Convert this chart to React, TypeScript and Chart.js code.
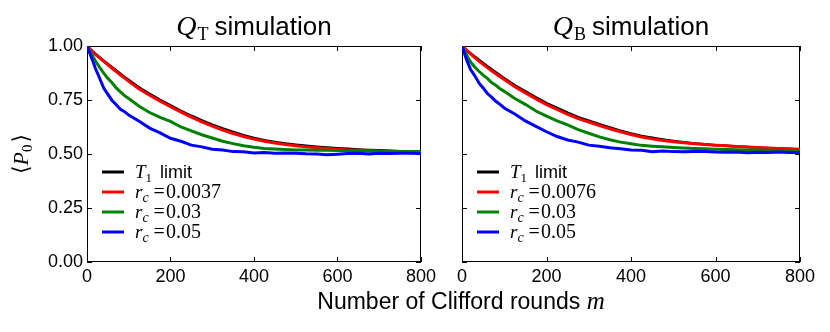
import React, { useEffect, useRef } from "react";
import { Chart, registerables } from "chart.js";
Chart.register(...registerables);

// ---------- data ----------
const rounds = [0, 5, 10, 15, 20, 30, 40, 50, 60, 70, 80, 90, 100, 125, 150, 175, 200, 225, 250, 275, 300, 325, 350, 375, 400, 425, 450, 475, 500, 525, 550, 575, 600, 625, 650, 675, 700, 725, 750, 775, 800];

const qtT1 = [1.0, 0.991, 0.982, 0.973, 0.964, 0.948, 0.932, 0.917, 0.902, 0.887, 0.872, 0.857, 0.843, 0.808, 0.779, 0.751, 0.725, 0.7, 0.677, 0.656, 0.636, 0.618, 0.602, 0.587, 0.574, 0.564, 0.556, 0.549, 0.543, 0.538, 0.534, 0.53, 0.527, 0.524, 0.521, 0.519, 0.517, 0.515, 0.513, 0.512, 0.511];
const qtR0037 = [1.0, 0.99, 0.98, 0.97, 0.961, 0.945, 0.929, 0.913, 0.897, 0.881, 0.866, 0.851, 0.836, 0.801, 0.772, 0.745, 0.719, 0.694, 0.671, 0.649, 0.629, 0.611, 0.595, 0.581, 0.569, 0.559, 0.551, 0.544, 0.538, 0.533, 0.529, 0.525, 0.522, 0.519, 0.517, 0.515, 0.513, 0.512, 0.511, 0.51, 0.509];
const qtR03 = [1.0, 0.982, 0.965, 0.948, 0.932, 0.902, 0.874, 0.85, 0.83, 0.806, 0.788, 0.77, 0.757, 0.721, 0.692, 0.67, 0.651, 0.625, 0.607, 0.589, 0.574, 0.559, 0.548, 0.538, 0.531, 0.526, 0.523, 0.521, 0.519, 0.518, 0.517, 0.517, 0.516, 0.515, 0.515, 0.514, 0.513, 0.513, 0.512, 0.511, 0.511];
const qtR05 = [1.0, 0.975, 0.949, 0.925, 0.897, 0.852, 0.805, 0.776, 0.748, 0.728, 0.707, 0.696, 0.68, 0.652, 0.62, 0.598, 0.573, 0.559, 0.541, 0.533, 0.522, 0.518, 0.511, 0.51, 0.505, 0.507, 0.503, 0.505, 0.504, 0.501, 0.5, 0.496, 0.499, 0.502, 0.503, 0.5, 0.504, 0.502, 0.504, 0.503, 0.502];

const qbT1 = [1.0, 0.992, 0.984, 0.975, 0.967, 0.951, 0.936, 0.921, 0.906, 0.892, 0.878, 0.864, 0.851, 0.818, 0.79, 0.762, 0.736, 0.713, 0.691, 0.671, 0.654, 0.638, 0.623, 0.608, 0.595, 0.584, 0.575, 0.567, 0.56, 0.554, 0.549, 0.545, 0.541, 0.538, 0.535, 0.532, 0.529, 0.527, 0.525, 0.523, 0.521];
const qbR0076 = [1.0, 0.991, 0.982, 0.972, 0.963, 0.946, 0.93, 0.915, 0.9, 0.885, 0.871, 0.858, 0.845, 0.811, 0.783, 0.755, 0.729, 0.706, 0.684, 0.664, 0.648, 0.632, 0.617, 0.603, 0.59, 0.579, 0.57, 0.563, 0.557, 0.552, 0.548, 0.544, 0.541, 0.538, 0.535, 0.532, 0.53, 0.528, 0.526, 0.524, 0.522];
const qbR03 = [1.0, 0.981, 0.962, 0.943, 0.927, 0.903, 0.883, 0.865, 0.85, 0.831, 0.818, 0.802, 0.79, 0.757, 0.73, 0.699, 0.675, 0.653, 0.635, 0.613, 0.596, 0.579, 0.566, 0.555, 0.547, 0.54, 0.536, 0.533, 0.53, 0.528, 0.526, 0.524, 0.522, 0.521, 0.52, 0.519, 0.518, 0.517, 0.516, 0.515, 0.515];
const qbR05 = [1.0, 0.97, 0.941, 0.916, 0.892, 0.863, 0.829, 0.806, 0.78, 0.763, 0.744, 0.73, 0.713, 0.685, 0.653, 0.628, 0.603, 0.581, 0.565, 0.555, 0.541, 0.536, 0.529, 0.524, 0.518, 0.517, 0.511, 0.514, 0.511, 0.51, 0.511, 0.512, 0.509, 0.508, 0.509, 0.506, 0.508, 0.507, 0.509, 0.507, 0.507];

const xTicks = [0, 200, 400, 600, 800];
const yTicks = [0, 0.25, 0.5, 0.75, 1.0];
const leftRates = ["0.0037", "0.03", "0.05"];
const rightRates = ["0.0076", "0.03", "0.05"];
const seriesColors = ["#000000", "#ff0000", "#008000", "#0000ff"];

// ---------- styling ----------
const SANS = '"Liberation Sans", Arial, Helvetica, sans-serif';
const SERIF = '"Liberation Serif", "DejaVu Serif", "Times New Roman", serif';

type PanelCfg = { sub: string; rates: string[]; showYLabel: boolean };

function decorPlugin(cfg: PanelCfg) {
  return {
    id: "decor",
    beforeDatasetsDraw(chart: any) {
      const { ctx, chartArea: a, scales } = chart;
      ctx.save();
      ctx.strokeStyle = "#000";
      ctx.lineWidth = 1;
      ctx.strokeRect(a.left + 0.5, a.top + 0.5, a.right - a.left - 1, a.bottom - a.top - 1);
      ctx.beginPath();
      for (const v of xTicks) {
        const px = Math.round(scales.x.getPixelForValue(v)) + 0.5;
        ctx.moveTo(px, a.bottom);
        ctx.lineTo(px, a.bottom - 5);
        ctx.moveTo(px, a.top);
        ctx.lineTo(px, a.top + 5);
      }
      for (const v of yTicks) {
        const py = Math.round(scales.y.getPixelForValue(v)) + 0.5;
        ctx.moveTo(a.left, py);
        ctx.lineTo(a.left + 5, py);
        ctx.moveTo(a.right, py);
        ctx.lineTo(a.right - 5, py);
      }
      ctx.stroke();
      ctx.restore();
    },
    afterDraw(chart: any) {
      const { ctx, chartArea: a } = chart;
      ctx.save();
      ctx.fillStyle = "#000";
      ctx.textBaseline = "alphabetic";
      ctx.textAlign = "left";

      // title
      const qFont = `italic 28px ${SERIF}`;
      const subFont = `18px ${SERIF}`;
      const tFont = `26px ${SANS}`;
      ctx.font = qFont;
      const wQ = ctx.measureText("Q").width;
      ctx.font = subFont;
      const wS = ctx.measureText(cfg.sub).width;
      ctx.font = tFont;
      const wT = ctx.measureText("simulation").width;
      const gap = 6;
      const total = wQ + 1 + wS + gap + wT;
      let tx = (a.left + a.right) / 2 - total / 2;
      const base = 35;
      ctx.font = qFont;
      ctx.fillText("Q", tx, base);
      tx += wQ + 1;
      ctx.font = subFont;
      ctx.fillText(cfg.sub, tx, base + 5);
      tx += wS + gap;
      ctx.font = tFont;
      ctx.fillText("simulation", tx, base);

      // legend
      const rows = [172, 192, 212, 232];
      const lx0 = a.left + 15;
      const lx1 = a.left + 37;
      const textX = a.left + 48;
      rows.forEach((ry, i) => {
        ctx.strokeStyle = seriesColors[i];
        ctx.lineWidth = 3;
        ctx.beginPath();
        ctx.moveTo(lx0, ry);
        ctx.lineTo(lx1, ry);
        ctx.stroke();
        const bl = ry + 6;
        let x = textX;
        if (i === 0) {
          ctx.font = `italic 19px ${SERIF}`;
          ctx.fillText("T", x, bl);
          x += ctx.measureText("T").width;
          ctx.font = `13px ${SERIF}`;
          ctx.fillText("1", x, bl + 4);
          x += ctx.measureText("1").width + 8;
          ctx.font = `18px ${SANS}`;
          ctx.fillText("limit", x, bl);
        } else {
          ctx.font = `italic 19px ${SERIF}`;
          ctx.fillText("r", x, bl);
          x += ctx.measureText("r").width;
          ctx.font = `italic 14px ${SERIF}`;
          ctx.fillText("c", x, bl + 4);
          x += ctx.measureText("c").width + 5;
          ctx.font = `20px ${SERIF}`;
          ctx.fillText("=", x, bl);
          x += ctx.measureText("=").width + 1;
          ctx.fillText(cfg.rates[i - 1], x, bl);
        }
      });

      // y-axis label
      if (cfg.showYLabel) {
        const cy = (a.top + a.bottom) / 2;
        ctx.translate(28, cy);
        ctx.rotate(-Math.PI / 2);
        const bFont = `22px "DejaVu Serif", ${SERIF}`;
        const pFont = `italic 22px ${SERIF}`;
        const zFont = `15px ${SERIF}`;
        ctx.font = bFont;
        const wb = ctx.measureText("\u27E8").width;
        ctx.font = pFont;
        const wp = ctx.measureText("P").width;
        ctx.font = zFont;
        const wz = ctx.measureText("0").width;
        const tot = wb * 2 + wp + wz + 2;
        let x = -tot / 2;
        ctx.font = bFont;
        ctx.fillText("\u27E8", x, 0);
        x += wb;
        ctx.font = pFont;
        ctx.fillText("P", x, 0);
        x += wp;
        ctx.font = zFont;
        ctx.fillText("0", x, 4);
        x += wz + 2;
        ctx.font = bFont;
        ctx.fillText("\u27E9", x, 0);
      }
      ctx.restore();
    },
  };
}

function buildChart(
  canvas: HTMLCanvasElement,
  values: number[][],
  cfg: PanelCfg,
  yAxisWidth: number,
  rightPad: number
) {
  const datasets = values.map((vals, i) => ({
    data: rounds.map((m, j) => ({ x: m, y: vals[j] })),
    borderColor: seriesColors[i],
    backgroundColor: seriesColors[i],
    borderWidth: i === 0 ? 2.5 : 3,
    pointRadius: 0,
    tension: 0,
    fill: false,
    order: 4 - i,
  }));
  return new Chart(canvas, {
    type: "line",
    data: { datasets },
    options: {
      animation: false,
      responsive: false,
      maintainAspectRatio: false,
      layout: { padding: { top: 46, left: 0, right: rightPad, bottom: 0 } },
      plugins: { legend: { display: false }, tooltip: { enabled: false }, title: { display: false } },
      scales: {
        x: {
          type: "linear",
          min: 0,
          max: 800,
          ticks: {
            stepSize: 200,
            color: "#000",
            font: { family: SANS, size: 18 },
            padding: 4,
            maxRotation: 0,
            autoSkip: false,
          },
          grid: { display: false, drawTicks: false },
          border: { display: false },
          afterFit: (s: any) => {
            s.height = 70;
          },
        },
        y: {
          type: "linear",
          min: 0,
          max: 1,
          ticks: {
            display: cfg.showYLabel,
            stepSize: 0.25,
            color: "#000",
            font: { family: SANS, size: 18 },
            padding: 4,
            callback: (v: any) => Number(v).toFixed(2),
          },
          grid: { display: false, drawTicks: false },
          border: { display: false },
          afterFit: (s: any) => {
            s.width = yAxisWidth;
          },
        },
      },
    },
    plugins: [decorPlugin(cfg)],
  } as any);
}

export default function App() {
  const leftRef = useRef<HTMLCanvasElement>(null);
  const rightRef = useRef<HTMLCanvasElement>(null);

  useEffect(() => {
    const c1 = buildChart(
      leftRef.current!,
      [qtT1, qtR0037, qtR03, qtR05],
      { sub: "T", rates: leftRates, showYLabel: true },
      87,
      15
    );
    const c2 = buildChart(
      rightRef.current!,
      [qbT1, qbR0076, qbR03, qbR05],
      { sub: "B", rates: rightRates, showYLabel: false },
      22,
      30
    );
    return () => {
      c1.destroy();
      c2.destroy();
    };
  }, []);

  return (
    <div style={{ position: "absolute", left: 0, top: 0, width: 830, height: 332, background: "#fff", overflow: "hidden" }}>
      <canvas ref={leftRef} width={440} height={332} style={{ position: "absolute", left: 0, top: 0, width: 440, height: 332 }} />
      <canvas ref={rightRef} width={390} height={332} style={{ position: "absolute", left: 440, top: 0, width: 390, height: 332 }} />
      <div
        style={{
          position: "absolute",
          left: 0,
          top: 290,
          width: 922,
          textAlign: "center",
          fontFamily: SANS,
          fontSize: 23,
          lineHeight: "22px",
          color: "#000",
          whiteSpace: "nowrap",
        }}
      >
        Number of Clifford rounds{" "}
        <span style={{ fontFamily: SERIF, fontStyle: "italic", fontSize: 25 }}>m</span>
      </div>
    </div>
  );
}
